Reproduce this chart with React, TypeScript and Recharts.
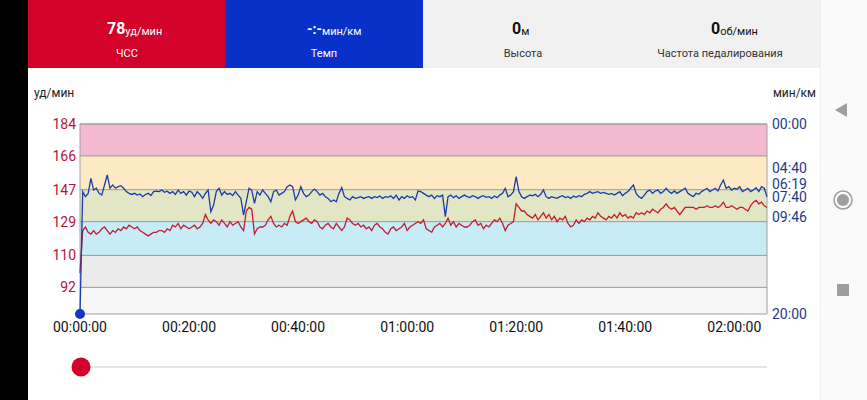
import { LineChart, Line, XAxis, YAxis, ReferenceArea, ReferenceLine, ReferenceDot } from 'recharts';

// heart rate, bpm, one value every 30 s from 00:00:00
const heartRate = [
  100, 124, 126, 123, 122, 124, 122, 123, 125, 126,
  124, 122, 124, 123, 125, 124, 126, 125, 127, 126,
  125, 126, 124, 123, 122, 121, 122, 123, 123, 124,
  124, 123, 125, 124, 127, 126, 128, 125, 127, 126,
  125, 126, 127, 125, 126, 128, 133, 130, 128, 130,
  129, 127, 130, 128, 126, 129, 127, 128, 129, 126,
  124, 135, 137, 136, 122, 125, 126, 126, 127, 130,
  132, 128, 126, 127, 126, 128, 127, 132, 135, 129,
  128, 129, 130, 131, 129, 128, 130, 129, 126, 125,
  127, 128, 126, 125, 128, 126, 124, 126, 131, 130,
  128, 127, 128, 126, 127, 125, 126, 124, 127, 128,
  126, 125, 123, 122, 125, 126, 124, 125, 126, 128,
  124, 126, 127, 128, 129, 128, 130, 125, 124, 123,
  126, 127, 128, 126, 128, 131, 127, 129, 126, 128,
  127, 126, 126, 127, 129, 130, 127, 128, 125, 127,
  126, 128, 130, 129, 131, 128, 124, 127, 128, 129,
  139, 137, 135, 135, 133, 132, 131, 133, 130, 132,
  134, 131, 133, 130, 132, 129, 131, 130, 132, 128,
  126, 127, 130, 128, 130, 129, 131, 130, 132, 131,
  134, 132, 131, 130, 132, 131, 133, 131, 134, 132,
  133, 131, 132, 131, 134, 133, 134, 133, 135, 134,
  136, 135, 134, 136, 137, 139, 137, 136, 137, 135,
  133, 135, 137, 137, 137, 137, 136, 137, 137, 137,
  138, 137, 137, 138, 137, 138, 140, 137, 137, 138,
  137, 136, 137, 137, 136, 135, 138, 140, 141, 139,
  140, 138, 137,
];

// pace, seconds per km, same timestamps
const pace = [
  1200, 427, 459, 438, 343, 417, 406, 438, 449, 385,
  322, 406, 385, 406, 396, 390, 406, 427, 438, 445,
  438, 449, 442, 459, 445, 438, 452, 427, 424, 427,
  417, 431, 424, 438, 427, 445, 417, 438, 427, 449,
  424, 431, 459, 427, 445, 469, 438, 417, 554, 512,
  427, 406, 449, 427, 445, 438, 452, 427, 449, 469,
  575, 491, 406, 417, 501, 427, 449, 417, 438, 459,
  491, 427, 417, 449, 438, 427, 396, 385, 396, 480,
  449, 396, 438, 459, 449, 427, 411, 427, 449, 438,
  459, 470, 491, 480, 491, 438, 402, 459, 470, 480,
  459, 470, 465, 459, 470, 463, 459, 470, 459, 465,
  455, 470, 459, 463, 453, 470, 449, 480, 459, 470,
  453, 465, 459, 480, 423, 427, 438, 449, 459, 449,
  470, 453, 459, 449, 585, 459, 449, 465, 453, 470,
  459, 449, 459, 465, 453, 459, 470, 459, 453, 463,
  459, 470, 455, 465, 449, 438, 406, 459, 449, 427,
  333, 427, 459, 470, 459, 449, 453, 444, 459, 444,
  417, 459, 470, 459, 465, 470, 459, 453, 465, 459,
  470, 455, 463, 453, 459, 444, 438, 427, 438, 432,
  427, 438, 432, 438, 444, 438, 449, 438, 427, 453,
  438, 427, 406, 385, 438, 459, 470, 449, 427, 417,
  438, 423, 417, 438, 427, 406, 427, 438, 423, 438,
  427, 417, 406, 438, 449, 459, 438, 444, 427, 417,
  406, 427, 417, 406, 423, 385, 354, 406, 396, 417,
  406, 411, 396, 427, 417, 406, 427, 417, 402, 427,
  396, 406, 459,
];

const timeTicks = [0, 20, 40, 60, 80, 100, 120];
const hrTicks = [92, 110, 129, 147, 166, 184];
const paceTicks = [0, 280, 379, 460, 586, 1200];

// heart rate zones, top to bottom
const zones = [
  { from: 166, to: 184, color: '#f3b9cf' },
  { from: 147, to: 166, color: '#fde9c3' },
  { from: 129, to: 147, color: '#e3e6c4' },
  { from: 110, to: 129, color: '#c8ebf8' },
  { from: 92, to: 110, color: '#ebebeb' },
  { from: 77, to: 92, color: '#f6f6f6' },
];

const data = heartRate.map((hr, i) => ({ t: i * 0.5, hr, pace: pace[i] }));

const pad = (n: number) => String(n).padStart(2, '0');
const fmtTime = (m: number) => `${pad(Math.floor(m / 60))}:${pad(m % 60)}:00`;
const fmtPace = (s: number) => `${pad(Math.floor(s / 60))}:${pad(s % 60)}`;

const FONT = 'Roboto, sans-serif';

function Header() {
  return (
    <svg width={867} height={70} style={{ position: 'absolute', left: 0, top: 0 }}>
      <rect x={28} y={0} width={198} height={68} fill="#d2022b" />
      <rect x={226} y={0} width={197} height={68} fill="#0831c9" />
      <rect x={423} y={0} width={397} height={68} fill="#f1f1f1" />
      <g fontFamily={FONT}>
        <text x={107} y={34} fill="#fff">
          <tspan fontSize={16} fontWeight={700}>78</tspan>
          <tspan fontSize={11} dy={1}>уд/мин</tspan>
        </text>
        <text x={127} y={57} fill="#fff" fontSize={11} textAnchor="middle">ЧСС</text>
        <text x={307} y={34} fill="#fff">
          <tspan fontSize={14} fontWeight={700}>-:-</tspan>
          <tspan fontSize={11} dy={1}>мин/км</tspan>
        </text>
        <text x={324} y={57} fill="#fff" fontSize={11} textAnchor="middle">Темп</text>
        <text x={512} y={34} fill="#111">
          <tspan fontSize={16} fontWeight={700}>0</tspan>
          <tspan fontSize={11} dy={1}>м</tspan>
        </text>
        <text x={523} y={57} fill="#333" fontSize={11} textAnchor="middle">Высота</text>
        <text x={711} y={34} fill="#111">
          <tspan fontSize={16} fontWeight={700}>0</tspan>
          <tspan fontSize={11} dy={1}>об/мин</tspan>
        </text>
        <text x={720} y={57} fill="#333" fontSize={11} textAnchor="middle">Частота педалирования</text>
      </g>
    </svg>
  );
}

function Overlay() {
  return (
    <svg width={867} height={400} style={{ position: 'absolute', left: 0, top: 0, pointerEvents: 'none' }}>
      <g fontFamily={FONT} fontSize={12} fill="#222">
        <text x={34} y={97}>уд/мин</text>
        <text x={816} y={97} textAnchor="end">мин/км</text>
      </g>
      <line x1={81} y1={367} x2={767} y2={367} stroke="#e4e4e4" strokeWidth={2} />
      <circle cx={81} cy={367} r={9.5} fill="#d2022b" />
      <path d="M835 110 L847 103 L847 117 Z" fill="#9e9e9e" />
      <circle cx={843} cy={200} r={9} fill="none" stroke="#9e9e9e" strokeWidth={1.5} />
      <circle cx={843} cy={200} r={6} fill="#9e9e9e" />
      <rect x={837} y={284} width={12} height={12} fill="#9e9e9e" />
    </svg>
  );
}

export default function App() {
  return (
    <div style={{ position: 'fixed', left: 0, top: 0, width: 867, height: 400, background: '#fff', overflow: 'hidden', fontFamily: FONT }}>
      <div style={{ position: 'absolute', left: 0, top: 0, width: 28, height: 400, background: '#000' }} />
      <div style={{ position: 'absolute', left: 820, top: 0, width: 47, height: 400, background: '#fafafa', borderLeft: '1px solid #f0f0f0' }} />
      <Header />
      <div style={{ position: 'absolute', left: 0, top: 0 }}>
        <LineChart width={867} height={400} data={data} margin={{ top: 124, right: 50, bottom: 56, left: 30 }}>
          <XAxis
            dataKey="t"
            type="number"
            domain={[0, 126]}
            ticks={timeTicks}
            tickFormatter={fmtTime}
            axisLine={false}
            tickLine={false}
            height={30}
            interval={0}
            tick={{ fill: '#111', fontSize: 14, fontFamily: FONT }}
          />
          <YAxis
            yAxisId="hr"
            domain={[77, 184]}
            ticks={hrTicks}
            interval={0}
            width={50}
            axisLine={false}
            tickLine={false}
            tickSize={0}
            tickMargin={4}
            tick={{ fill: '#b3163b', fontSize: 14, fontFamily: FONT }}
          />
          <YAxis
            yAxisId="pace"
            orientation="right"
            domain={[0, 1200]}
            reversed
            ticks={paceTicks}
            tickFormatter={fmtPace}
            interval={0}
            width={50}
            axisLine={false}
            tickLine={false}
            tickSize={0}
            tickMargin={5}
            tick={{ fill: '#1d3a8c', fontSize: 14, fontFamily: FONT }}
          />
          {zones.map((z) => (
            <ReferenceArea
              key={z.from}
              yAxisId="hr"
              x1={0}
              x2={126}
              y1={z.from}
              y2={z.to}
              fill={z.color}
              fillOpacity={1}
              stroke="none"
            />
          ))}
          {hrTicks.map((v) => (
            <ReferenceLine key={v} yAxisId="hr" y={v} stroke="#9a9a9a" strokeWidth={1} />
          ))}
          <ReferenceArea
            yAxisId="hr"
            x1={0}
            x2={126}
            y1={77}
            y2={184}
            fill="none"
            fillOpacity={0}
            stroke="#a0a0a0"
            strokeWidth={1}
          />
          <Line
            yAxisId="hr"
            dataKey="hr"
            type="linear"
            stroke="#c21d33"
            strokeWidth={1.3}
            dot={false}
            isAnimationActive={false}
          />
          <Line
            yAxisId="pace"
            dataKey="pace"
            type="linear"
            stroke="#1b3ca8"
            strokeWidth={1.3}
            dot={false}
            isAnimationActive={false}
          />
          <ReferenceDot yAxisId="pace" x={0} y={1200} r={5} fill="#1236c4" stroke="none" ifOverflow="visible" />
        </LineChart>
      </div>
      <Overlay />
    </div>
  );
}
